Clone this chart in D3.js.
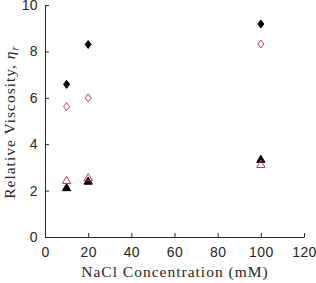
<!DOCTYPE html>
<html>
<head>
<meta charset="utf-8">
<script src="https://cdn.jsdelivr.net/npm/d3@7"></script>
<style>
body { margin: 0; background: #fff; }
.tick text { font-family: "Liberation Sans", Arial, sans-serif; font-size: 14px; letter-spacing: 0.4px; fill: #262626; }
.ttl { font-family: "Liberation Serif", "DejaVu Serif", serif; font-size: 15.5px; letter-spacing: 1px; fill: #262626; }
</style>
</head>
<body>
<svg id="chart" width="316" height="283"></svg>
<script>
// NaCl concentrations (mM)
var nacl = [10, 20, 100];
// relative viscosity, four series
var filledDiamond = [6.58, 8.30, 9.18];
var openDiamond = [5.62, 6.00, 8.32];
var filledTriangle = [2.10, 2.38, 3.32];
var openTriangle = [2.41, 2.53, 3.10];
var xTicks = [0, 20, 40, 60, 80, 100, 120];
var yTicks = [0, 2, 4, 6, 8, 10];

var red = "#c8375a";
var svg = d3.select("#chart");
var mLeft = 45, mRight = 304, mTop = 5, mBottom = 237;

var x = d3.scaleLinear().domain([0, 120]).range([mLeft, mRight]);
var y = d3.scaleLinear().domain([0, 10]).range([mBottom, mTop]);

var gx = svg.append("g").attr("transform", "translate(0," + mBottom + ")")
    .call(d3.axisBottom(x).tickValues(xTicks).tickSizeInner(-4).tickSizeOuter(0).tickPadding(8));
var gy = svg.append("g").attr("transform", "translate(" + mLeft + ",0)")
    .call(d3.axisLeft(y).tickValues(yTicks).tickSizeInner(-4).tickSizeOuter(0).tickPadding(7));
[gx, gy].forEach(function (g) {
    g.select(".domain").attr("stroke", "#262626");
    g.selectAll(".tick line").attr("stroke", "#262626");
});
gx.selectAll(".tick text").attr("dy", "0.85em");

// matlab-ish diamond: narrower than tall
var diamondType = {
    draw: function (ctx, size) {
        var w = Math.sqrt(size) * 0.6, h = Math.sqrt(size) * 0.8;
        ctx.moveTo(0, -h);
        ctx.lineTo(w, 0);
        ctx.lineTo(0, h);
        ctx.lineTo(-w, 0);
        ctx.closePath();
    }
};
var diamond = d3.symbol().type(diamondType).size(25);
var tri = d3.symbol().type(d3.symbolTriangle).size(30);

function series(vals, sym, fill, stroke) {
    svg.append("g").selectAll("path")
        .data(vals)
        .enter()
        .append("path")
        .attr("d", sym)
        .attr("transform", function (d, i) {
            return "translate(" + x(nacl[i]) + "," + y(d) + ")";
        })
        .attr("fill", fill)
        .attr("stroke", stroke)
        .attr("stroke-width", 1);
}
series(openDiamond, diamond, "none", red);
series(filledDiamond, diamond, "#000", "#000");
series(filledTriangle, tri, "#000", "#000");
series(openTriangle, tri, "none", red);

svg.append("text").attr("class", "ttl")
    .attr("x", 175).attr("y", 277)
    .attr("text-anchor", "middle")
    .text("NaCl Concentration (mM)");

var yl = svg.append("text").attr("class", "ttl")
    .attr("transform", "translate(15,122) rotate(-90)")
    .attr("text-anchor", "middle");
yl.append("tspan").text("Relative Viscosity, ");
yl.append("tspan").attr("font-style", "italic").text("η");
yl.append("tspan").attr("font-style", "italic").attr("font-size", "11px").attr("dy", 3).text("r");
</script>
</body>
</html>
